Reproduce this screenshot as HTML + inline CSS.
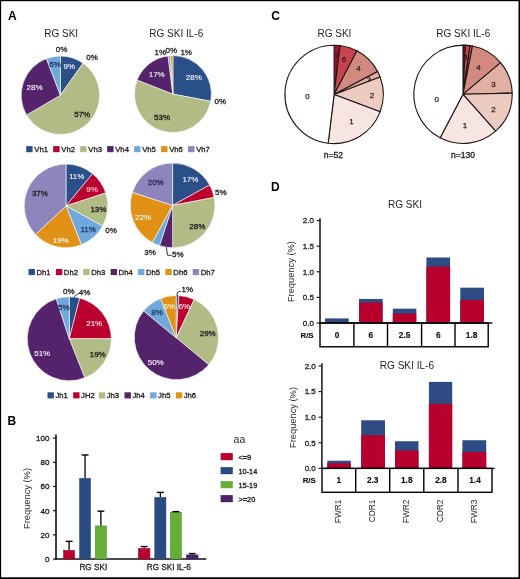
<!DOCTYPE html>
<html><head><meta charset="utf-8"><title>Figure</title>
<style>
html,body{margin:0;padding:0;background:#fff;}
body{width:520px;height:579px;overflow:hidden;}
svg{display:block;font-family:"Liberation Sans",sans-serif;}
</style></head>
<body>
<svg width="520" height="579" viewBox="0 0 520 579">
<defs><filter id="soft" x="0" y="0" width="520" height="579" filterUnits="userSpaceOnUse"><feGaussianBlur stdDeviation="0.35"/></filter></defs>
<rect x="0" y="0" width="520" height="579" fill="#fff"/>
<g filter="url(#soft)">
<rect x="0" y="0" width="520" height="579" fill="#fff"/>
<text x="8" y="19.6" font-size="12" fill="#000" text-anchor="start" font-weight="bold">A</text>
<text x="44.2" y="37.4" font-size="10" fill="#231f20" text-anchor="start">RG SKI</text>
<text x="149.3" y="37.4" font-size="10" fill="#231f20" text-anchor="start">RG SKI IL-6</text>
<path d="M60.40,95.20L60.40,56.00A39.2,39.2 0 0,1 83.04,63.20Z" fill="#2b4f89" stroke="#fff" stroke-width="0.6" stroke-linejoin="round"/>
<path d="M60.40,95.20L83.04,63.20A39.2,39.2 0 1,1 26.53,114.94Z" fill="#b0bb86" stroke="#fff" stroke-width="0.6" stroke-linejoin="round"/>
<path d="M60.40,95.20L26.53,114.94A39.2,39.2 0 0,1 46.43,58.57Z" fill="#55246c" stroke="#fff" stroke-width="0.6" stroke-linejoin="round"/>
<path d="M60.40,95.20L46.43,58.57A39.2,39.2 0 0,1 60.40,56.00Z" fill="#70a8dc" stroke="#fff" stroke-width="0.6" stroke-linejoin="round"/>
<text x="55.7" y="52.3" font-size="8" fill="#231f20" text-anchor="start" stroke="#231f20" stroke-width="0.32">0%</text>
<text x="86.2" y="59.7" font-size="8" fill="#231f20" text-anchor="start" stroke="#231f20" stroke-width="0.32">0%</text>
<text x="49.3" y="67.3" font-size="8" fill="#203e70" text-anchor="start" stroke="#203e70" stroke-width="0.32">6%</text>
<text x="63.6" y="68.5" font-size="8" fill="#ffffff" text-anchor="start" stroke="#ffffff" stroke-width="0.08">9%</text>
<text x="26.6" y="90.4" font-size="8" fill="#ffffff" text-anchor="start" stroke="#ffffff" stroke-width="0.08">28%</text>
<text x="74.2" y="117" font-size="8" fill="#231f20" text-anchor="start" stroke="#231f20" stroke-width="0.32">57%</text>
<path d="M172.90,94.10L172.90,55.60A38.5,38.5 0 0,1 210.72,101.31Z" fill="#2b4f89" stroke="#fff" stroke-width="0.6" stroke-linejoin="round"/>
<path d="M172.90,94.10L210.72,101.31A38.5,38.5 0 1,1 137.10,79.93Z" fill="#b0bb86" stroke="#fff" stroke-width="0.6" stroke-linejoin="round"/>
<path d="M172.90,94.10L137.10,79.93A38.5,38.5 0 0,1 168.07,55.90Z" fill="#55246c" stroke="#fff" stroke-width="0.6" stroke-linejoin="round"/>
<path d="M172.90,94.10L168.07,55.90A38.5,38.5 0 0,1 170.48,55.68Z" fill="#70a8dc" stroke="#fff" stroke-width="0.6" stroke-linejoin="round"/>
<path d="M172.90,94.10L170.48,55.68A38.5,38.5 0 0,1 172.90,55.60Z" fill="#e09114" stroke="#fff" stroke-width="0.6" stroke-linejoin="round"/>
<text x="154.6" y="54.6" font-size="8" fill="#231f20" text-anchor="start" stroke="#231f20" stroke-width="0.32">1%</text>
<text x="165.6" y="53" font-size="8" fill="#231f20" text-anchor="start" stroke="#231f20" stroke-width="0.32">0%</text>
<text x="180.4" y="55" font-size="8" fill="#231f20" text-anchor="start" stroke="#231f20" stroke-width="0.32">1%</text>
<text x="148.7" y="76.7" font-size="8" fill="#ffffff" text-anchor="start" stroke="#ffffff" stroke-width="0.08">17%</text>
<text x="185.8" y="80.2" font-size="8" fill="#ffffff" text-anchor="start" stroke="#ffffff" stroke-width="0.08">28%</text>
<text x="214.6" y="104.2" font-size="8" fill="#231f20" text-anchor="start" stroke="#231f20" stroke-width="0.32">0%</text>
<text x="154" y="120.4" font-size="8" fill="#231f20" text-anchor="start" stroke="#231f20" stroke-width="0.32">53%</text>
<rect x="26.2" y="146.1" width="6.4" height="6.1" fill="#2b4f89"/>
<text x="34.3" y="151.6" font-size="7.7" fill="#231f20" text-anchor="start" stroke="#231f20" stroke-width="0.32">Vh1</text>
<rect x="53.18" y="146.1" width="6.4" height="6.1" fill="#b9002f"/>
<text x="61.28" y="151.6" font-size="7.7" fill="#231f20" text-anchor="start" stroke="#231f20" stroke-width="0.32">Vh2</text>
<rect x="80.16" y="146.1" width="6.4" height="6.1" fill="#b0bb86"/>
<text x="88.26" y="151.6" font-size="7.7" fill="#231f20" text-anchor="start" stroke="#231f20" stroke-width="0.32">Vh3</text>
<rect x="107.14" y="146.1" width="6.4" height="6.1" fill="#55246c"/>
<text x="115.24" y="151.6" font-size="7.7" fill="#231f20" text-anchor="start" stroke="#231f20" stroke-width="0.32">Vh4</text>
<rect x="134.12" y="146.1" width="6.4" height="6.1" fill="#70a8dc"/>
<text x="142.22" y="151.6" font-size="7.7" fill="#231f20" text-anchor="start" stroke="#231f20" stroke-width="0.32">Vh5</text>
<rect x="161.1" y="146.1" width="6.4" height="6.1" fill="#e09114"/>
<text x="169.2" y="151.6" font-size="7.7" fill="#231f20" text-anchor="start" stroke="#231f20" stroke-width="0.32">Vh6</text>
<rect x="188.07999999999998" y="146.1" width="6.4" height="6.1" fill="#8c86bc"/>
<text x="196.18" y="151.6" font-size="7.7" fill="#231f20" text-anchor="start" stroke="#231f20" stroke-width="0.32">Vh7</text>
<path d="M66.00,205.90L66.00,164.10A41.8,41.8 0 0,1 92.64,173.69Z" fill="#2b4f89" stroke="#fff" stroke-width="0.6" stroke-linejoin="round"/>
<path d="M66.00,205.90L92.64,173.69A41.8,41.8 0 0,1 105.75,192.98Z" fill="#b9002f" stroke="#fff" stroke-width="0.6" stroke-linejoin="round"/>
<path d="M66.00,205.90L105.75,192.98A41.8,41.8 0 0,1 102.63,226.04Z" fill="#b0bb86" stroke="#fff" stroke-width="0.6" stroke-linejoin="round"/>
<path d="M66.00,205.90L102.63,226.04A41.8,41.8 0 0,1 81.39,244.76Z" fill="#70a8dc" stroke="#fff" stroke-width="0.6" stroke-linejoin="round"/>
<path d="M66.00,205.90L81.39,244.76A41.8,41.8 0 0,1 35.53,234.51Z" fill="#e09114" stroke="#fff" stroke-width="0.6" stroke-linejoin="round"/>
<path d="M66.00,205.90L35.53,234.51A41.8,41.8 0 0,1 66.00,164.10Z" fill="#8c86bc" stroke="#fff" stroke-width="0.6" stroke-linejoin="round"/>
<text x="68.9" y="178.9" font-size="8" fill="#ffffff" text-anchor="start" stroke="#ffffff" stroke-width="0.08">11%</text>
<text x="86.2" y="191.9" font-size="8" fill="#f6d0d8" text-anchor="start" stroke="#f6d0d8" stroke-width="0.08">9%</text>
<text x="90.4" y="212" font-size="8" fill="#231f20" text-anchor="start" stroke="#231f20" stroke-width="0.32">13%</text>
<text x="105.2" y="232.7" font-size="8" fill="#231f20" text-anchor="start" stroke="#231f20" stroke-width="0.32">0%</text>
<text x="80.4" y="232.4" font-size="8" fill="#203e70" text-anchor="start" stroke="#203e70" stroke-width="0.32">11%</text>
<text x="52.7" y="242.7" font-size="8" fill="#ffffff" text-anchor="start" stroke="#ffffff" stroke-width="0.08">19%</text>
<text x="31.9" y="195.8" font-size="8" fill="#231f20" text-anchor="start" stroke="#231f20" stroke-width="0.32">37%</text>
<path d="M172.60,205.40L172.60,163.10A42.3,42.3 0 0,1 209.67,185.02Z" fill="#2b4f89" stroke="#fff" stroke-width="0.6" stroke-linejoin="round"/>
<path d="M172.60,205.40L209.67,185.02A42.3,42.3 0 0,1 214.15,197.47Z" fill="#b9002f" stroke="#fff" stroke-width="0.6" stroke-linejoin="round"/>
<path d="M172.60,205.40L214.15,197.47A42.3,42.3 0 0,1 172.60,247.70Z" fill="#b0bb86" stroke="#fff" stroke-width="0.6" stroke-linejoin="round"/>
<path d="M172.60,205.40L172.60,247.70A42.3,42.3 0 0,1 159.53,245.63Z" fill="#55246c" stroke="#fff" stroke-width="0.6" stroke-linejoin="round"/>
<path d="M172.60,205.40L159.53,245.63A42.3,42.3 0 0,1 152.22,242.47Z" fill="#70a8dc" stroke="#fff" stroke-width="0.6" stroke-linejoin="round"/>
<path d="M172.60,205.40L152.22,242.47A42.3,42.3 0 0,1 132.37,192.33Z" fill="#e09114" stroke="#fff" stroke-width="0.6" stroke-linejoin="round"/>
<path d="M172.60,205.40L132.37,192.33A42.3,42.3 0 0,1 172.60,163.10Z" fill="#8c86bc" stroke="#fff" stroke-width="0.6" stroke-linejoin="round"/>
<text x="182.4" y="182.4" font-size="8" fill="#ffffff" text-anchor="start" stroke="#ffffff" stroke-width="0.08">17%</text>
<text x="215.1" y="195.1" font-size="8" fill="#231f20" text-anchor="start" stroke="#231f20" stroke-width="0.32">5%</text>
<text x="189.3" y="228.6" font-size="8" fill="#231f20" text-anchor="start" stroke="#231f20" stroke-width="0.32">28%</text>
<text x="144.2" y="255.4" font-size="8" fill="#231f20" text-anchor="start" stroke="#231f20" stroke-width="0.32">3%</text>
<text x="172" y="257" font-size="8" fill="#231f20" text-anchor="start" stroke="#231f20" stroke-width="0.32">5%</text>
<path d="M166.4,247.3 L167.5,255.2 L171.6,255.4" fill="none" stroke="#2a2a2a" stroke-width="0.95"/>
<text x="135" y="219.6" font-size="8" fill="#ffffff" text-anchor="start" stroke="#ffffff" stroke-width="0.08">22%</text>
<text x="147.7" y="185.4" font-size="8" fill="#2e2755" text-anchor="start" stroke="#2e2755" stroke-width="0.32">20%</text>
<rect x="28.5" y="269.0" width="6.4" height="6.1" fill="#2b4f89"/>
<text x="36.5" y="274.5" font-size="7.7" fill="#231f20" text-anchor="start" stroke="#231f20" stroke-width="0.32">Dh1</text>
<rect x="55.870000000000005" y="269.0" width="6.4" height="6.1" fill="#b9002f"/>
<text x="63.87" y="274.5" font-size="7.7" fill="#231f20" text-anchor="start" stroke="#231f20" stroke-width="0.32">Dh2</text>
<rect x="83.24000000000001" y="269.0" width="6.4" height="6.1" fill="#b0bb86"/>
<text x="91.24" y="274.5" font-size="7.7" fill="#231f20" text-anchor="start" stroke="#231f20" stroke-width="0.32">Dh3</text>
<rect x="110.61" y="269.0" width="6.4" height="6.1" fill="#55246c"/>
<text x="118.61" y="274.5" font-size="7.7" fill="#231f20" text-anchor="start" stroke="#231f20" stroke-width="0.32">Dh4</text>
<rect x="137.98000000000002" y="269.0" width="6.4" height="6.1" fill="#70a8dc"/>
<text x="145.98" y="274.5" font-size="7.7" fill="#231f20" text-anchor="start" stroke="#231f20" stroke-width="0.32">Dh5</text>
<rect x="165.35" y="269.0" width="6.4" height="6.1" fill="#e09114"/>
<text x="173.35" y="274.5" font-size="7.7" fill="#231f20" text-anchor="start" stroke="#231f20" stroke-width="0.32">Dh6</text>
<rect x="192.72" y="269.0" width="6.4" height="6.1" fill="#8c86bc"/>
<text x="200.72" y="274.5" font-size="7.7" fill="#231f20" text-anchor="start" stroke="#231f20" stroke-width="0.32">Dh7</text>
<path d="M69.30,338.80L69.30,296.80A42,42 0 0,1 79.74,298.12Z" fill="#2b4f89" stroke="#fff" stroke-width="0.6" stroke-linejoin="round"/>
<path d="M69.30,338.80L79.74,298.12A42,42 0 0,1 111.30,338.80Z" fill="#b9002f" stroke="#fff" stroke-width="0.6" stroke-linejoin="round"/>
<path d="M69.30,338.80L111.30,338.80A42,42 0 0,1 84.76,377.85Z" fill="#b0bb86" stroke="#fff" stroke-width="0.6" stroke-linejoin="round"/>
<path d="M69.30,338.80L84.76,377.85A42,42 0 1,1 56.32,298.86Z" fill="#55246c" stroke="#fff" stroke-width="0.6" stroke-linejoin="round"/>
<path d="M69.30,338.80L56.32,298.86A42,42 0 0,1 69.30,296.80Z" fill="#70a8dc" stroke="#fff" stroke-width="0.6" stroke-linejoin="round"/>
<text x="63.1" y="293.9" font-size="8" fill="#231f20" text-anchor="start" stroke="#231f20" stroke-width="0.32">0%</text>
<text x="78.8" y="295" font-size="8" fill="#231f20" text-anchor="start" stroke="#231f20" stroke-width="0.32">4%</text>
<path d="M74.3,297.4 Q75,294.6 78.8,293.6" fill="none" stroke="#2a2a2a" stroke-width="0.95"/>
<text x="58" y="310" font-size="8" fill="#203e70" text-anchor="start" stroke="#203e70" stroke-width="0.32">5%</text>
<text x="86.2" y="325.5" font-size="8" fill="#ffffff" text-anchor="start" stroke="#ffffff" stroke-width="0.08">21%</text>
<text x="89.7" y="357.4" font-size="8" fill="#231f20" text-anchor="start" stroke="#231f20" stroke-width="0.32">19%</text>
<text x="34.2" y="356.2" font-size="8" fill="#ffffff" text-anchor="start" stroke="#ffffff" stroke-width="0.08">51%</text>
<path d="M176.20,337.80L176.20,295.50A42.3,42.3 0 0,1 178.86,295.58Z" fill="#2b4f89" stroke="#fff" stroke-width="0.6" stroke-linejoin="round"/>
<path d="M176.20,337.80L178.86,295.58A42.3,42.3 0 0,1 194.21,299.53Z" fill="#b9002f" stroke="#fff" stroke-width="0.6" stroke-linejoin="round"/>
<path d="M176.20,337.80L194.21,299.53A42.3,42.3 0 0,1 208.79,364.76Z" fill="#b0bb86" stroke="#fff" stroke-width="0.6" stroke-linejoin="round"/>
<path d="M176.20,337.80L208.79,364.76A42.3,42.3 0 0,1 143.61,310.84Z" fill="#55246c" stroke="#fff" stroke-width="0.6" stroke-linejoin="round"/>
<path d="M176.20,337.80L143.61,310.84A42.3,42.3 0 0,1 160.63,298.47Z" fill="#70a8dc" stroke="#fff" stroke-width="0.6" stroke-linejoin="round"/>
<path d="M176.20,337.80L160.63,298.47A42.3,42.3 0 0,1 176.20,295.50Z" fill="#e09114" stroke="#fff" stroke-width="0.6" stroke-linejoin="round"/>
<text x="181.6" y="292.4" font-size="8" fill="#231f20" text-anchor="start" stroke="#231f20" stroke-width="0.32">1%</text>
<path d="M177.1,296.2 L177.2,292.8 Q177.6,291.6 180.8,291.2" fill="none" stroke="#2a2a2a" stroke-width="0.95"/>
<text x="178.6" y="309.2" font-size="8" fill="#ffffff" text-anchor="start" stroke="#ffffff" stroke-width="0.08">6%</text>
<text x="163.6" y="309.2" font-size="8" fill="#ffffff" text-anchor="start" stroke="#ffffff" stroke-width="0.08">6%</text>
<text x="151.2" y="315.2" font-size="8" fill="#203e70" text-anchor="start" stroke="#203e70" stroke-width="0.32">8%</text>
<text x="199.7" y="336.1" font-size="8" fill="#231f20" text-anchor="start" stroke="#231f20" stroke-width="0.32">29%</text>
<text x="147.7" y="365" font-size="8" fill="#ffffff" text-anchor="start" stroke="#ffffff" stroke-width="0.08">50%</text>
<rect x="47.5" y="392.3" width="6.4" height="6.1" fill="#2b4f89"/>
<text x="55.4" y="398.2" font-size="7.7" fill="#231f20" text-anchor="start" stroke="#231f20" stroke-width="0.32">Jh1</text>
<rect x="73.16" y="392.3" width="6.4" height="6.1" fill="#b9002f"/>
<text x="81.06" y="398.2" font-size="7.7" fill="#231f20" text-anchor="start" stroke="#231f20" stroke-width="0.32">JH2</text>
<rect x="98.82" y="392.3" width="6.4" height="6.1" fill="#b0bb86"/>
<text x="106.72" y="398.2" font-size="7.7" fill="#231f20" text-anchor="start" stroke="#231f20" stroke-width="0.32">Jh3</text>
<rect x="124.48" y="392.3" width="6.4" height="6.1" fill="#55246c"/>
<text x="132.38" y="398.2" font-size="7.7" fill="#231f20" text-anchor="start" stroke="#231f20" stroke-width="0.32">Jh4</text>
<rect x="150.14" y="392.3" width="6.4" height="6.1" fill="#70a8dc"/>
<text x="158.04" y="398.2" font-size="7.7" fill="#231f20" text-anchor="start" stroke="#231f20" stroke-width="0.32">Jh5</text>
<rect x="175.8" y="392.3" width="6.4" height="6.1" fill="#e09114"/>
<text x="183.7" y="398.2" font-size="7.7" fill="#231f20" text-anchor="start" stroke="#231f20" stroke-width="0.32">Jh6</text>
<text x="7.6" y="424.8" font-size="12" fill="#000" text-anchor="start" font-weight="bold">B</text>
<line x1="56" y1="434.5" x2="56" y2="559.8" stroke="#111" stroke-width="1.6"/>
<line x1="55.2" y1="559" x2="206.3" y2="559" stroke="#111" stroke-width="1.5"/>
<line x1="53" y1="559.0" x2="56" y2="559.0" stroke="#111" stroke-width="1.2"/>
<text x="49.4" y="561.85" font-size="8" fill="#231f20" text-anchor="end" stroke="#231f20" stroke-width="0.32">0</text>
<line x1="53" y1="534.83" x2="56" y2="534.83" stroke="#111" stroke-width="1.2"/>
<text x="49.4" y="537.6800000000001" font-size="8" fill="#231f20" text-anchor="end" stroke="#231f20" stroke-width="0.32">20</text>
<line x1="53" y1="510.66" x2="56" y2="510.66" stroke="#111" stroke-width="1.2"/>
<text x="49.4" y="513.51" font-size="8" fill="#231f20" text-anchor="end" stroke="#231f20" stroke-width="0.32">40</text>
<line x1="53" y1="486.49" x2="56" y2="486.49" stroke="#111" stroke-width="1.2"/>
<text x="49.4" y="489.34000000000003" font-size="8" fill="#231f20" text-anchor="end" stroke="#231f20" stroke-width="0.32">60</text>
<line x1="53" y1="462.32" x2="56" y2="462.32" stroke="#111" stroke-width="1.2"/>
<text x="49.4" y="465.17" font-size="8" fill="#231f20" text-anchor="end" stroke="#231f20" stroke-width="0.32">80</text>
<line x1="53" y1="438.15" x2="56" y2="438.15" stroke="#111" stroke-width="1.2"/>
<text x="49.4" y="441.0" font-size="8" fill="#231f20" text-anchor="end" stroke="#231f20" stroke-width="0.32">100</text>
<text transform="translate(30.2,498.5) rotate(-90)" font-size="9.3" fill="#231f20" text-anchor="middle">Frequency (%)</text>
<rect x="63.55" y="550.3071" width="11.100000000000009" height="8.692900000000009" fill="#b9002f" stroke="#8e0024" stroke-width="0.5"/>
<line x1="69.1" y1="550.0571" x2="69.1" y2="541.3559" stroke="#000" stroke-width="1.3"/>
<line x1="65.64999999999999" y1="541.3559" x2="72.55" y2="541.3559" stroke="#000" stroke-width="1.4"/>
<rect x="79.55" y="478.2805" width="11.0" height="80.71949999999998" fill="#2c4c82" stroke="#22406f" stroke-width="0.5"/>
<line x1="85.05" y1="478.0305" x2="85.05" y2="454.94815" stroke="#000" stroke-width="1.3"/>
<line x1="81.6" y1="454.94815" x2="88.5" y2="454.94815" stroke="#000" stroke-width="1.4"/>
<rect x="95.25" y="525.8954" width="11.299999999999997" height="33.104600000000005" fill="#66ae38" stroke="#4f8c2c" stroke-width="0.5"/>
<line x1="100.9" y1="525.6454" x2="100.9" y2="511.1434" stroke="#000" stroke-width="1.3"/>
<line x1="97.45" y1="511.1434" x2="104.35000000000001" y2="511.1434" stroke="#000" stroke-width="1.4"/>
<rect x="138.35" y="548.49435" width="11.599999999999994" height="10.505649999999946" fill="#b9002f" stroke="#8e0024" stroke-width="0.5"/>
<line x1="144.14999999999998" y1="548.24435" x2="144.14999999999998" y2="546.55245" stroke="#000" stroke-width="1.3"/>
<line x1="140.7" y1="546.55245" x2="147.59999999999997" y2="546.55245" stroke="#000" stroke-width="1.4"/>
<rect x="154.75" y="497.3748" width="11.199999999999989" height="61.62520000000001" fill="#2c4c82" stroke="#22406f" stroke-width="0.5"/>
<line x1="160.35" y1="497.1248" x2="160.35" y2="492.41165" stroke="#000" stroke-width="1.3"/>
<line x1="156.9" y1="492.41165" x2="163.79999999999998" y2="492.41165" stroke="#000" stroke-width="1.4"/>
<rect x="170.25" y="512.1185" width="11.199999999999989" height="46.88150000000002" fill="#66ae38" stroke="#4f8c2c" stroke-width="0.5"/>
<line x1="175.85" y1="511.8685" x2="175.85" y2="511.6268" stroke="#000" stroke-width="1.3"/>
<line x1="172.4" y1="511.6268" x2="179.29999999999998" y2="511.6268" stroke="#000" stroke-width="1.4"/>
<rect x="186.45" y="554.8994" width="11.600000000000023" height="4.100599999999986" fill="#4b2168" stroke="#381a50" stroke-width="0.5"/>
<line x1="192.25" y1="554.6494" x2="192.25" y2="553.56175" stroke="#000" stroke-width="1.3"/>
<line x1="188.8" y1="553.56175" x2="195.7" y2="553.56175" stroke="#000" stroke-width="1.4"/>
<text x="93.3" y="569.8" font-size="8.2" fill="#231f20" text-anchor="middle" stroke="#231f20" stroke-width="0.32">RG SKI</text>
<text x="168.8" y="569.8" font-size="8.2" fill="#231f20" text-anchor="middle" stroke="#231f20" stroke-width="0.32">RG SKI IL-6</text>
<text x="233.6" y="442.6" font-size="10.5" fill="#231f20" text-anchor="start">aa</text>
<rect x="220.6" y="453.1" width="12.2" height="7.1" fill="#b9002f"/>
<text x="238.4" y="459.6" font-size="7.4" fill="#231f20" text-anchor="start" stroke="#231f20" stroke-width="0.32">&lt;=9</text>
<rect x="220.6" y="467.1" width="12.2" height="7.1" fill="#2c4c82"/>
<text x="238.4" y="473.6" font-size="7.4" fill="#231f20" text-anchor="start" stroke="#231f20" stroke-width="0.32">10-14</text>
<rect x="220.6" y="481.1" width="12.2" height="7.1" fill="#66ae38"/>
<text x="238.4" y="487.6" font-size="7.4" fill="#231f20" text-anchor="start" stroke="#231f20" stroke-width="0.32">15-19</text>
<rect x="220.6" y="495.1" width="12.2" height="7.1" fill="#4b2168"/>
<text x="238.4" y="501.6" font-size="7.4" fill="#231f20" text-anchor="start" stroke="#231f20" stroke-width="0.32">&gt;=20</text>
<text x="271.2" y="19.6" font-size="12" fill="#000" text-anchor="start" font-weight="bold">C</text>
<text x="317.5" y="37.4" font-size="10" fill="#231f20" text-anchor="start">RG SKI</text>
<text x="436.3" y="37.4" font-size="10" fill="#231f20" text-anchor="start">RG SKI IL-6</text>
<path d="M334.10,94.40L334.10,45.20A49.2,49.2 0 0,1 340.03,45.56Z" fill="#a50f2a" stroke="#1e1616" stroke-width="1.1" stroke-linejoin="round"/>
<path d="M334.10,94.40L340.03,45.56A49.2,49.2 0 0,1 356.96,50.84Z" fill="#c8434f" stroke="#1e1616" stroke-width="1.1" stroke-linejoin="round"/>
<path d="M334.10,94.40L356.96,50.84A49.2,49.2 0 0,1 377.66,71.54Z" fill="#d28a80" stroke="#1e1616" stroke-width="1.1" stroke-linejoin="round"/>
<path d="M334.10,94.40L377.66,71.54A49.2,49.2 0 0,1 380.10,76.95Z" fill="#e2afa4" stroke="#1e1616" stroke-width="1.1" stroke-linejoin="round"/>
<path d="M334.10,94.40L380.10,76.95A49.2,49.2 0 0,1 380.10,111.85Z" fill="#edcbc1" stroke="#1e1616" stroke-width="1.1" stroke-linejoin="round"/>
<path d="M334.10,94.40L380.10,111.85A49.2,49.2 0 0,1 328.17,143.24Z" fill="#f6e5e1" stroke="#1e1616" stroke-width="1.1" stroke-linejoin="round"/>
<path d="M334.10,94.40L328.17,143.24A49.2,49.2 0 0,1 334.10,45.20Z" fill="#ffffff" stroke="#1e1616" stroke-width="1.1" stroke-linejoin="round"/>
<path d="M463.00,94.30L463.00,45.10A49.2,49.2 0 0,1 465.38,45.16Z" fill="#a50f2a" stroke="#1e1616" stroke-width="1.1" stroke-linejoin="round"/>
<path d="M463.00,94.30L465.38,45.16A49.2,49.2 0 0,1 470.11,45.62Z" fill="#c8434f" stroke="#1e1616" stroke-width="1.1" stroke-linejoin="round"/>
<path d="M463.00,94.30L470.11,45.62A49.2,49.2 0 0,1 472.45,46.02Z" fill="#cc6b6b" stroke="#1e1616" stroke-width="1.1" stroke-linejoin="round"/>
<path d="M463.00,94.30L472.45,46.02A49.2,49.2 0 0,1 500.60,62.57Z" fill="#d28a80" stroke="#1e1616" stroke-width="1.1" stroke-linejoin="round"/>
<path d="M463.00,94.30L500.60,62.57A49.2,49.2 0 0,1 512.19,93.11Z" fill="#e2afa4" stroke="#1e1616" stroke-width="1.1" stroke-linejoin="round"/>
<path d="M463.00,94.30L512.19,93.11A49.2,49.2 0 0,1 495.63,131.13Z" fill="#edcbc1" stroke="#1e1616" stroke-width="1.1" stroke-linejoin="round"/>
<path d="M463.00,94.30L495.63,131.13A49.2,49.2 0 0,1 440.14,137.86Z" fill="#f6e5e1" stroke="#1e1616" stroke-width="1.1" stroke-linejoin="round"/>
<path d="M463.00,94.30L440.14,137.86A49.2,49.2 0 0,1 463.00,45.10Z" fill="#ffffff" stroke="#1e1616" stroke-width="1.1" stroke-linejoin="round"/>
<text x="307.5" y="98.8" font-size="8" fill="#231f20" text-anchor="middle" stroke="#231f20" stroke-width="0.25">0</text>
<text x="351.4" y="124.2" font-size="8" fill="#231f20" text-anchor="middle" stroke="#231f20" stroke-width="0.25">1</text>
<text x="372" y="98.2" font-size="8" fill="#231f20" text-anchor="middle" stroke="#231f20" stroke-width="0.25">2</text>
<text x="369.2" y="81.3" font-size="6.5" fill="#3a2a2a" text-anchor="middle" stroke="#3a2a2a" stroke-width="0.32" transform="rotate(-22 369.2 79)">3</text>
<text x="336.6" y="57.5" font-size="5.5" fill="#3a1a1a" text-anchor="middle" stroke="#3a1a1a" stroke-width="0.32">7</text>
<text x="358.5" y="71.3" font-size="8" fill="#231f20" text-anchor="middle" stroke="#231f20" stroke-width="0.25">4</text>
<text x="344" y="62.2" font-size="8" fill="#231f20" text-anchor="middle" stroke="#231f20" stroke-width="0.25">6</text>
<text x="436.7" y="101.8" font-size="8" fill="#231f20" text-anchor="middle" stroke="#231f20" stroke-width="0.25">0</text>
<text x="465" y="128.4" font-size="8" fill="#231f20" text-anchor="middle" stroke="#231f20" stroke-width="0.25">1</text>
<text x="493.6" y="111.5" font-size="8" fill="#231f20" text-anchor="middle" stroke="#231f20" stroke-width="0.25">2</text>
<text x="493.6" y="87" font-size="8" fill="#231f20" text-anchor="middle" stroke="#231f20" stroke-width="0.25">3</text>
<text x="478.6" y="69.6" font-size="8" fill="#231f20" text-anchor="middle" stroke="#231f20" stroke-width="0.25">4</text>
<text x="465.8" y="59.5" font-size="6.5" fill="#3a1a1a" text-anchor="middle" stroke="#3a1a1a" stroke-width="0.32">6</text>
<text x="323.8" y="157.7" font-size="8.6" fill="#231f20" text-anchor="start" stroke="#231f20" stroke-width="0.32">n=52</text>
<text x="451" y="157.7" font-size="8.6" fill="#231f20" text-anchor="start" stroke="#231f20" stroke-width="0.32">n=130</text>
<text x="271" y="191.3" font-size="12" fill="#000" text-anchor="start" font-weight="bold">D</text>
<text x="387.9" y="208.4" font-size="10.1" fill="#231f20">RG SKI</text>
<rect x="325.1" y="318.392" width="23.599999999999966" height="4.608000000000004" fill="#2d4b84"/>
<rect x="359" y="298.936" width="23.600000000000023" height="24.06400000000002" fill="#2d4b84"/>
<rect x="359" y="302.52" width="23.600000000000023" height="20.480000000000018" fill="#b7002d"/>
<rect x="392.8" y="308.664" width="23.5" height="14.336000000000013" fill="#2d4b84"/>
<rect x="392.8" y="313.528" width="23.5" height="9.47199999999998" fill="#b7002d"/>
<rect x="426.4" y="257.464" width="23.700000000000045" height="65.536" fill="#2d4b84"/>
<rect x="426.4" y="266.68" width="23.700000000000045" height="56.31999999999999" fill="#b7002d"/>
<rect x="460.3" y="287.672" width="23.69999999999999" height="35.327999999999975" fill="#2d4b84"/>
<rect x="460.3" y="299.96" width="23.69999999999999" height="23.04000000000002" fill="#b7002d"/>
<line x1="320" y1="218.2" x2="320" y2="323" stroke="#111" stroke-width="1.5"/>
<line x1="319.3" y1="323" x2="492.4" y2="323" stroke="#111" stroke-width="1.4"/>
<line x1="316.6" y1="323.0" x2="320" y2="323.0" stroke="#111" stroke-width="1.1"/>
<text x="313.9" y="325.85" font-size="8" fill="#231f20" text-anchor="end" stroke="#231f20" stroke-width="0.32">0.0</text>
<line x1="316.6" y1="297.4" x2="320" y2="297.4" stroke="#111" stroke-width="1.1"/>
<text x="313.9" y="300.25" font-size="8" fill="#231f20" text-anchor="end" stroke="#231f20" stroke-width="0.32">0.5</text>
<line x1="316.6" y1="271.8" x2="320" y2="271.8" stroke="#111" stroke-width="1.1"/>
<text x="313.9" y="274.65000000000003" font-size="8" fill="#231f20" text-anchor="end" stroke="#231f20" stroke-width="0.32">1.0</text>
<line x1="316.6" y1="246.2" x2="320" y2="246.2" stroke="#111" stroke-width="1.1"/>
<text x="313.9" y="249.04999999999998" font-size="8" fill="#231f20" text-anchor="end" stroke="#231f20" stroke-width="0.32">1.5</text>
<line x1="316.6" y1="220.6" x2="320" y2="220.6" stroke="#111" stroke-width="1.1"/>
<text x="313.9" y="223.45" font-size="8" fill="#231f20" text-anchor="end" stroke="#231f20" stroke-width="0.32">2.0</text>
<text transform="translate(294.4,271.6) rotate(-90)" font-size="9.3" fill="#231f20" text-anchor="middle">Frequency (%)</text>
<rect x="320" y="323" width="168.2" height="23.80000000000001" fill="none" stroke="#000" stroke-width="1.4"/>
<line x1="353.9" y1="323" x2="353.9" y2="346.8" stroke="#000" stroke-width="1.4"/>
<line x1="387.5" y1="323" x2="387.5" y2="346.8" stroke="#000" stroke-width="1.4"/>
<line x1="421.6" y1="323" x2="421.6" y2="346.8" stroke="#000" stroke-width="1.4"/>
<line x1="455" y1="323" x2="455" y2="346.8" stroke="#000" stroke-width="1.4"/>
<text x="313.6" y="337.79999999999995" font-size="7.9" fill="#111" text-anchor="end" font-weight="bold" stroke="#111" stroke-width="0.15">R/S</text>
<text x="336.95" y="337.79999999999995" font-size="8.3" fill="#111" text-anchor="middle" font-weight="bold" stroke="#111" stroke-width="0.15">0</text>
<text x="370.7" y="337.79999999999995" font-size="8.3" fill="#111" text-anchor="middle" font-weight="bold" stroke="#111" stroke-width="0.15">6</text>
<text x="404.55" y="337.79999999999995" font-size="8.3" fill="#111" text-anchor="middle" font-weight="bold" stroke="#111" stroke-width="0.15">2.5</text>
<text x="438.3" y="337.79999999999995" font-size="8.3" fill="#111" text-anchor="middle" font-weight="bold" stroke="#111" stroke-width="0.15">6</text>
<text x="471.6" y="337.79999999999995" font-size="8.3" fill="#111" text-anchor="middle" font-weight="bold" stroke="#111" stroke-width="0.15">1.8</text>
<text x="379.7" y="369.4" font-size="10.1" fill="#231f20">RG SKI IL-6</text>
<rect x="327.3" y="460.71999999999997" width="23.5" height="7.680000000000007" fill="#2d4b84"/>
<rect x="327.3" y="463.28" width="23.5" height="5.1200000000000045" fill="#b7002d"/>
<rect x="361.2" y="420.272" width="23.80000000000001" height="48.127999999999986" fill="#2d4b84"/>
<rect x="361.2" y="435.12" width="23.80000000000001" height="33.27999999999997" fill="#b7002d"/>
<rect x="395" y="441.26399999999995" width="23.5" height="27.136000000000024" fill="#2d4b84"/>
<rect x="395" y="450.47999999999996" width="23.5" height="17.920000000000016" fill="#b7002d"/>
<rect x="428.9" y="381.87199999999996" width="23.30000000000001" height="86.52800000000002" fill="#2d4b84"/>
<rect x="428.9" y="403.888" width="23.30000000000001" height="64.512" fill="#b7002d"/>
<rect x="462.4" y="440.23999999999995" width="23.80000000000001" height="28.160000000000025" fill="#2d4b84"/>
<rect x="462.4" y="452.01599999999996" width="23.80000000000001" height="16.384000000000015" fill="#b7002d"/>
<line x1="321.9" y1="363.2" x2="321.9" y2="468.4" stroke="#111" stroke-width="1.5"/>
<line x1="321.2" y1="468.4" x2="494.7" y2="468.4" stroke="#111" stroke-width="1.4"/>
<line x1="318.5" y1="468.4" x2="321.9" y2="468.4" stroke="#111" stroke-width="1.1"/>
<text x="315.79999999999995" y="471.25" font-size="8" fill="#231f20" text-anchor="end" stroke="#231f20" stroke-width="0.32">0.0</text>
<line x1="318.5" y1="442.79999999999995" x2="321.9" y2="442.79999999999995" stroke="#111" stroke-width="1.1"/>
<text x="315.79999999999995" y="445.65" font-size="8" fill="#231f20" text-anchor="end" stroke="#231f20" stroke-width="0.32">0.5</text>
<line x1="318.5" y1="417.2" x2="321.9" y2="417.2" stroke="#111" stroke-width="1.1"/>
<text x="315.79999999999995" y="420.05" font-size="8" fill="#231f20" text-anchor="end" stroke="#231f20" stroke-width="0.32">1.0</text>
<line x1="318.5" y1="391.59999999999997" x2="321.9" y2="391.59999999999997" stroke="#111" stroke-width="1.1"/>
<text x="315.79999999999995" y="394.45" font-size="8" fill="#231f20" text-anchor="end" stroke="#231f20" stroke-width="0.32">1.5</text>
<line x1="318.5" y1="366.0" x2="321.9" y2="366.0" stroke="#111" stroke-width="1.1"/>
<text x="315.79999999999995" y="368.85" font-size="8" fill="#231f20" text-anchor="end" stroke="#231f20" stroke-width="0.32">2.0</text>
<text transform="translate(296.3,417.5) rotate(-90)" font-size="9.3" fill="#231f20" text-anchor="middle">Frequency (%)</text>
<rect x="322" y="468.4" width="170" height="23.900000000000034" fill="none" stroke="#000" stroke-width="1.4"/>
<line x1="355.7" y1="468.4" x2="355.7" y2="492.3" stroke="#000" stroke-width="1.4"/>
<line x1="389.7" y1="468.4" x2="389.7" y2="492.3" stroke="#000" stroke-width="1.4"/>
<line x1="423.8" y1="468.4" x2="423.8" y2="492.3" stroke="#000" stroke-width="1.4"/>
<line x1="458" y1="468.4" x2="458" y2="492.3" stroke="#000" stroke-width="1.4"/>
<text x="315.8" y="483.25" font-size="7.9" fill="#111" text-anchor="end" font-weight="bold" stroke="#111" stroke-width="0.15">R/S</text>
<text x="338.85" y="483.25" font-size="8.3" fill="#111" text-anchor="middle" font-weight="bold" stroke="#111" stroke-width="0.15">1</text>
<text x="372.7" y="483.25" font-size="8.3" fill="#111" text-anchor="middle" font-weight="bold" stroke="#111" stroke-width="0.15">2.3</text>
<text x="406.75" y="483.25" font-size="8.3" fill="#111" text-anchor="middle" font-weight="bold" stroke="#111" stroke-width="0.15">1.8</text>
<text x="440.9" y="483.25" font-size="8.3" fill="#111" text-anchor="middle" font-weight="bold" stroke="#111" stroke-width="0.15">2.8</text>
<text x="475.0" y="483.25" font-size="8.3" fill="#111" text-anchor="middle" font-weight="bold" stroke="#111" stroke-width="0.15">1.4</text>
<text transform="translate(341.4,499.5) rotate(-90)" font-size="8.4" fill="#231f20" text-anchor="end">FWR1</text>
<text transform="translate(375.1,499.5) rotate(-90)" font-size="8.4" fill="#231f20" text-anchor="end">CDR1</text>
<text transform="translate(409.1,499.5) rotate(-90)" font-size="8.4" fill="#231f20" text-anchor="end">FWR2</text>
<text transform="translate(442.9,499.5) rotate(-90)" font-size="8.4" fill="#231f20" text-anchor="end">CDR2</text>
<text transform="translate(477.1,499.5) rotate(-90)" font-size="8.4" fill="#231f20" text-anchor="end">FWR3</text>
</g>
<rect x="0" y="0" width="1.15" height="579" fill="#000"/>
<rect x="0" y="0" width="520" height="1.2" fill="#000"/>
<rect x="518.5" y="0" width="1.5" height="579" fill="#000"/>
<rect x="0" y="577.3" width="520" height="1.7" fill="#000"/>
</svg>
</body></html>
